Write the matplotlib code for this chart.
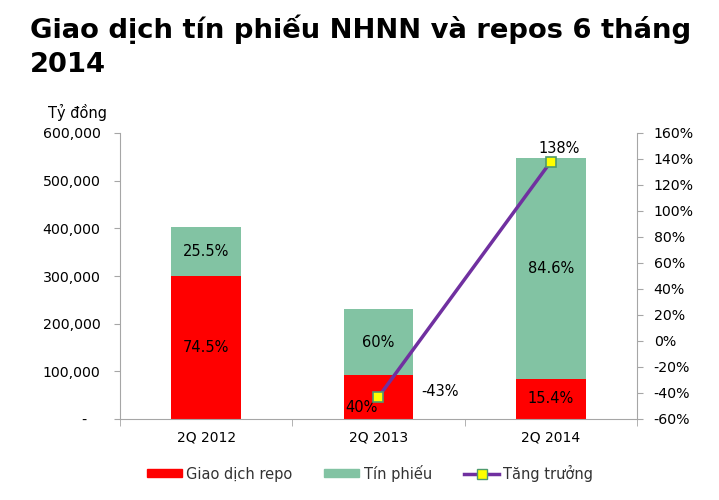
import numpy as np
import matplotlib.pyplot as plt
from matplotlib.ticker import FuncFormatter, FixedLocator
from matplotlib.lines import Line2D
from matplotlib.patches import Patch

#------------------------------------------- Data -------------------------------------#
categories = ["2Q 2012", "2Q 2013", "2Q 2014"]
repo = [300000, 92000, 84400]           # Giao dịch repo (tỷ đồng)
tin_phieu = [102700, 138000, 463600]    # Tín phiếu (tỷ đồng)
repo_share = ["74.5%", "40%", "15.4%"]
tp_share = ["25.5%", "60%", "84.6%"]
growth = [-43, 138]                     # Tăng trưởng (%) for 2Q 2013, 2Q 2014
growth_labels = ["-43%", "138%"]

#------------------------------------------- Style ------------------------------------#
plt.rcParams['font.family'] = ['DejaVu Sans']
red = "#FF0000"
green = "#82C3A3"
purple = "#7030A0"
grey = "#A6A6A6"

fig = plt.figure(figsize=(7.19, 5.0), dpi=100)
ax = fig.add_axes([120 / 719, 81 / 500, 517 / 719, 286 / 500])
x = np.arange(len(categories))
w = 0.405

ax.bar(x, repo, w, color=red, zorder=2)
ax.bar(x, tin_phieu, w, bottom=repo, color=green, zorder=2)

ax.set_xlim(-0.5, 2.5)
ax.set_ylim(0, 600000)
ax.set_yticks(np.arange(0, 600001, 100000))
ax.yaxis.set_major_formatter(FuncFormatter(lambda v, p: "-   " if v == 0 else f"{int(v):,}"))
ax.set_xticks(x)
ax.set_xticklabels(categories)
ax.xaxis.set_minor_locator(FixedLocator([-0.5, 0.5, 1.5, 2.5]))
ax.tick_params(axis="x", which="major", length=0, pad=8, labelsize=10)
ax.tick_params(axis="x", which="minor", length=5, color=grey, direction="out")
ax.tick_params(axis="y", length=4, color=grey, labelsize=10.2, pad=10)
for s in ["top", "right"]:
    ax.spines[s].set_visible(False)
for s in ["left", "bottom"]:
    ax.spines[s].set_color(grey)

# share labels inside bars
for i in range(len(categories)):
    if i == 1:
        ax.text(x[i] - 0.005, 9000, repo_share[i], ha="right", va="bottom", fontsize=10.5)
    else:
        ax.text(x[i], repo[i] / 2, repo_share[i], ha="center", va="center", fontsize=10.5)
    ax.text(x[i], repo[i] + tin_phieu[i] / 2, tp_share[i], ha="center", va="center", fontsize=10.5)

#-------------------------------------------- Growth line ----------------------------#
ax2 = ax.twinx()
ax2.plot(x[1:], growth, color=purple, lw=2.5, marker="s", markersize=7,
         markerfacecolor="#FFFF00", markeredgecolor="#4F9A6E", markeredgewidth=1.2, zorder=3)
ax2.set_ylim(-60, 160)
ax2.set_yticks(np.arange(-60, 161, 20))
ax2.yaxis.set_major_formatter(FuncFormatter(lambda v, p: f"{int(v)}%"))
ax2.tick_params(axis="y", length=4, color=grey, labelsize=10.2, pad=8)
for s in ["top", "left", "bottom"]:
    ax2.spines[s].set_visible(False)
ax2.spines["right"].set_color(grey)
ax2.text(x[1] + 0.25, growth[0] + 4, growth_labels[0], ha="left", va="center", fontsize=10.5)
ax2.text(x[2] + 0.05, growth[1] + 10, growth_labels[1], ha="center", va="center", fontsize=10.5)

#-------------------------------------------- Text -----------------------------------#
fig.text(30 / 719, 1 - 38 / 500, "Giao dịch tín phiếu NHNN và repos 6 tháng",
         fontsize=19.7, fontweight="bold", ha="left", va="baseline")
fig.text(30 / 719, 1 - 72 / 500, "2014", fontsize=19.7, fontweight="bold",
         ha="left", va="baseline")
fig.text(48 / 719, 1 - 112 / 500, "Tỷ đồng", fontsize=10.5, ha="left", va="center")

handles = [Patch(color=red), Patch(color=green),
           Line2D([], [], color=purple, lw=2.5, marker="s", markersize=7,
                  markerfacecolor="#FFFF00", markeredgecolor="#4F9A6E")]
fig.legend(handles, ["Giao dịch repo", "Tín phiếu", "Tăng trưởng"], loc="center",
           bbox_to_anchor=(370 / 719, 1 - 473 / 500), ncol=3, frameon=False,
           fontsize=10.5, handlelength=2.4, handleheight=0.5, columnspacing=2.2,
           handletextpad=0.3, labelcolor="#333333")

fig.savefig("out.png", dpi=100)
